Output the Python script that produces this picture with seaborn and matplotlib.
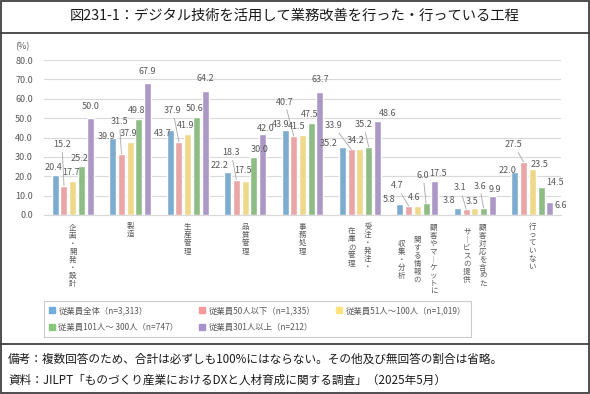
import matplotlib
matplotlib.use("Agg")
import matplotlib.pyplot as plt
import matplotlib.patches as mpatches
from matplotlib.lines import Line2D
import seaborn as sns
import pandas as pd

# ---- data ----
CATEGORIES = ["企画・開発・設計", "製造", "生産管理", "品質管理", "事務処理",
              "受注・発注・在庫の管理", "顧客やマーケットに関する情報の収集・分析",
              "顧客対応を含めたサービスの提供", "行っていない"]
# label columns for vertical text (right-most column first)
CAT_COLUMNS = [["企画・開発・設計"], ["製造"], ["生産管理"], ["品質管理"], ["事務処理"],
               ["受注・発注・", "在庫の管理"],
               ["顧客やマーケットに", "関する情報の", "収集・分析"],
               ["顧客対応を含めた", "サービスの提供"], ["行っていない"]]
SERIES = ["従業員全体（n=3,313）", "従業員50人以下（n=1,335）", "従業員51人～100人（n=1,019）",
          "従業員101人～ 300人（n=747）", "従業員301人以上（n=212）"]
ALL = [20.4, 39.9, 43.7, 22.2, 43.9, 35.2, 5.8, 3.8, 22.0]
UNDER50 = [15.2, 31.5, 37.9, 18.3, 40.7, 33.9, 4.7, 3.1, 27.5]
S51_100 = [17.7, 37.9, 41.9, 17.5, 41.5, 34.2, 4.6, 3.5, 23.5]
S101_300 = [25.2, 49.8, 50.6, 30.0, 47.5, 35.2, 6.0, 3.6, 14.5]
OVER301 = [50.0, 67.9, 64.2, 42.0, 63.7, 48.6, 17.5, 9.9, 6.6]
YTICKS = [0, 10, 20, 30, 40, 50, 60, 70, 80]

COLORS = ["#6FAEDF", "#F5999B", "#FFE27A", "#86C77A", "#AB91CC"]

# label offsets in pixels (dx, dy downwards, leader line) for labels moved off the bar top
LABEL_OFFSETS = {
    (0, 1): (-2, -41, True), (0, 4): (0, -12, False),
    (1, 0): (-6, -1, False), (1, 1): (-2, -32, True), (1, 4): (0, -12, False),
    (2, 0): (-7, 3, False), (2, 1): (-6, -31, True), (2, 4): (0, -12, False),
    (3, 0): (-8, -6, False), (3, 1): (-5, -27, True), (3, 2): (-2, -11, False),
    (3, 3): (6, -7, False), (3, 4): (3, -5, False),
    (4, 0): (-4, -5, False), (4, 1): (-9, -34, True), (4, 2): (-6, -8, False),
    (4, 4): (0, -12, False),
    (5, 0): (-14, -3, False), (5, 1): (-18, -24, True), (5, 2): (-4, -8, False),
    (5, 3): (-5, -22, True), (5, 4): (10, -7, False),
    (6, 0): (-11, -4, False), (6, 1): (-12, -20, True), (6, 2): (-3, -9, False),
    (6, 3): (-3, -28, True), (6, 4): (3, -8, False),
    (7, 0): (-8, -7, False), (7, 1): (-6, -21, True), (7, 2): (-3, -7, False),
    (7, 3): (-4, -22, True), (7, 4): (3, -6, False),
    (8, 0): (-7, -2, False), (8, 1): (-10, -17, True), (8, 2): (7, -5, False),
    (8, 3): (14, -4, False), (8, 4): (11, 3, False),
}

sns.set_style("white")
plt.rcParams["font.family"] = ["Noto Sans CJK JP", "DejaVu Sans"]

df = pd.DataFrame({
    "cat": CATEGORIES * 5,
    "series": [s for s in SERIES for _ in CATEGORIES],
    "value": ALL + UNDER50 + S51_100 + S101_300 + OVER301,
})

fig = plt.figure(figsize=(5.9, 3.94), dpi=100)
ax = fig.add_axes([44 / 590, 1 - 215 / 394, 517 / 590, 155 / 394])

sns.barplot(data=df, x="cat", y="value", hue="series", order=CATEGORIES,
            hue_order=SERIES, palette=COLORS, width=0.76, gap=0.2,
            legend=False, ax=ax, errorbar=None)

ax.set_ylim(0, 80)
ax.set_xlim(-0.5, len(CATEGORIES) - 0.5)
ax.set_yticks(YTICKS)
ax.set_yticklabels([f"{t:.1f}" for t in YTICKS], fontsize=6.5, color="#595959")
ax.tick_params(axis="y", length=0, pad=8)
ax.tick_params(axis="x", length=0)
ax.set_xticklabels([])
ax.set_xlabel("")
ax.set_ylabel("")
ax.grid(axis="y", color="#D9D9D9", lw=0.8)
ax.set_axisbelow(True)
for side in ["left", "right", "top"]:
    ax.spines[side].set_visible(False)
ax.spines["bottom"].set_color("#D9D9D9")

ax.annotate("(%)", xy=(0, 1), xycoords="axes fraction", xytext=(-22, 13),
            textcoords="offset pixels", ha="center", va="center",
            fontsize=6.5, color="#595959")

# data labels
for j, cont in enumerate(ax.containers):
    for i, bar in enumerate(cont):
        v = bar.get_height()
        x = bar.get_x() + bar.get_width() / 2
        dx, dy, lead = LABEL_OFFSETS.get((i, j), (-2, -8, False))
        kw = {}
        if lead:
            kw["arrowprops"] = dict(arrowstyle="-", color="#A6A6A6", lw=0.6,
                                    shrinkA=0, shrinkB=0)
        ax.annotate(f"{v:.1f}", xy=(x, v), xytext=(dx, -dy),
                    textcoords="offset pixels", ha="center", va="center",
                    fontsize=6.5, color="#595959", **kw)

# vertical category labels
step = 8.4
for i, cols in enumerate(CAT_COLUMNS):
    n_max = max(len(c) for c in cols)
    yoff = -(7 + n_max * step / 2)
    for k, col in enumerate(cols):
        dx = ((len(cols) - 1) / 2 - k) * 16
        txt = "\n".join(col.replace("ー", "︱"))
        ax.annotate(txt, xy=(i, 0), xytext=(dx, yoff), textcoords="offset pixels",
                    ha="center", va="center", fontsize=5.4, color="#595959",
                    linespacing=1.0, annotation_clip=False)

# legend
handles = [mpatches.Patch(color=c, label=s) for c, s in zip(COLORS, SERIES)]
order = [0, 3, 1, 4, 2]
leg = fig.legend([handles[k] for k in order], [SERIES[k] for k in order],
                 ncol=3, loc="upper left", bbox_to_anchor=(40 / 590, 1 - 297 / 394),
                 fontsize=6, frameon=True, fancybox=False, edgecolor="#BFBFBF",
                 handlelength=0.7, handleheight=0.7, handletextpad=0.4,
                 columnspacing=2.5, labelspacing=0.9, borderpad=0.6)
for t in leg.get_texts():
    t.set_color("#595959")
leg.get_frame().set_linewidth(0.8)

# frame, title and notes
fig.add_artist(mpatches.Rectangle((0.002, 0.002), 0.996, 0.995, transform=fig.transFigure,
                                  fill=False, ec="#404040", lw=1.3))
fig.add_artist(Line2D([0, 1], [1 - 33 / 394] * 2, color="#404040", lw=1.3))
fig.add_artist(Line2D([0, 1], [1 - 344 / 394] * 2, color="#404040", lw=1.3))
fig.text(0.5, 1 - 16 / 394, "図231-1：デジタル技術を活用して業務改善を行った・行っている工程",
         ha="center", va="center", fontsize=10.3, color="#1a1a1a")
fig.text(8 / 590, 1 - 359 / 394,
         "備考：複数回答のため、合計は必ずしも100%にはならない。その他及び無回答の割合は省略。",
         ha="left", va="center", fontsize=8.4, color="#1a1a1a")
fig.text(8 / 590, 1 - 380 / 394,
         "資料：JILPT「ものづくり産業におけるDXと人材育成に関する調査」（2025年5月）",
         ha="left", va="center", fontsize=8.4, color="#1a1a1a")

fig.savefig("out.png", dpi=100)
